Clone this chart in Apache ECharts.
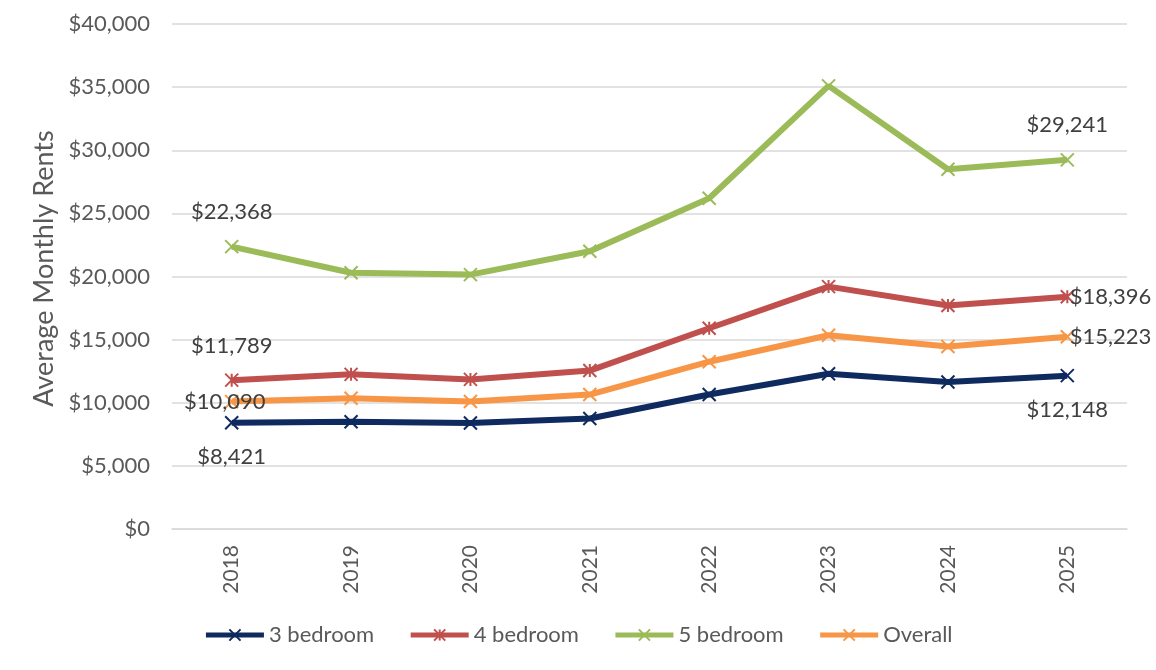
<!DOCTYPE html>
<html>
<head>
<meta charset="utf-8">
<script src="https://cdn.jsdelivr.net/npm/echarts@6/dist/echarts.min.js"></script>
<style>
  html,body{margin:0;padding:0;background:#fff;}
  #chart{width:1156px;height:670px;}
</style>
</head>
<body>
<div id="chart"></div>
<script>
// data
var years = ['2018', '2019', '2020', '2021', '2022', '2023', '2024', '2025']
var bed3 = [8421, 8500, 8400, 8750, 10650, 12300, 11650, 12148]
var bed4 = [11789, 12250, 11850, 12550, 15900, 19200, 17700, 18396]
var bed5 = [22368, 20300, 20150, 22000, 26200, 35100, 28500, 29241]
var overall = [10090, 10350, 10100, 10650, 13250, 15350, 14450, 15223]

var xMark = 'path://M0,0L10,10M10,0L0,10'
var starMark = 'path://M0,0L10,10M10,0L0,10M5,0L5,10'

function money(v){
  return '$' + Math.round(v).toLocaleString('en-US')
}

// label setup per position, first and last points only
function labelAt(pos){
  if (pos === 'right') return {show: true, position: 'right', distance: -5}
  if (pos === 'inside') return {show: true, position: 'inside', offset: [-7, 0]}
  return {show: true, position: pos, distance: 16}
}

function withLabels(values, firstPos, lastPos){
  return values.map(function(v, i){
    if (i === 0) return {value: v, label: labelAt(firstPos)}
    if (i === values.length - 1) return {value: v, label: labelAt(lastPos)}
    return v
  })
}

function makeSeries(name, values, color, symbol, firstPos, lastPos){
  return {
    name: name,
    type: 'line',
    data: withLabels(values, firstPos, lastPos),
    symbol: symbol,
    symbolSize: 13,
    showAllSymbol: true,
    lineStyle: {color: color, width: 6},
    itemStyle: {color: color, borderColor: color, borderWidth: 2},
    label: {
      show: false,
      fontFamily: 'Lato',
      fontSize: 22,
      color: '#404040',
      formatter: function(p){ return money(p.value) }
    },
    emphasis: {disabled: true},
    z: 2
  }
}

var chart = echarts.init(document.getElementById('chart'), null, {renderer: 'canvas'})
chart.setOption({
  animation: false,
  textStyle: {fontFamily: 'Lato'},
  grid: {left: 172, right: 29, top: 24, bottom: 141},
  legend: {
    bottom: 19,
    left: 'center',
    itemWidth: 58,
    itemHeight: 14,
    itemGap: 34,
    lineStyle: {width: 5},
    textStyle: {fontSize: 22, color: '#595959', fontFamily: 'Lato'},
    data: ['3 bedroom', '4 bedroom', '5 bedroom', 'Overall']
  },
  xAxis: {
    type: 'category',
    data: years,
    boundaryGap: true,
    axisLine: {lineStyle: {color: '#d9d9d9', width: 1.5}},
    axisTick: {show: false},
    axisLabel: {rotate: 90, fontSize: 21, color: '#595959', margin: 16}
  },
  yAxis: {
    type: 'value',
    min: 0,
    max: 40000,
    interval: 5000,
    name: 'Average Monthly Rents',
    nameLocation: 'middle',
    nameGap: 110,
    nameTextStyle: {fontSize: 27, color: '#595959', padding: [0, 0, 0, 16]},
    axisLine: {show: false},
    axisTick: {show: false},
    splitLine: {lineStyle: {color: '#d9d9d9', width: 1.5}},
    axisLabel: {fontSize: 22, color: '#595959', margin: 22, formatter: money}
  },
  series: [
    makeSeries('3 bedroom', bed3, '#0f2a5e', xMark, 'bottom', 'bottom'),
    makeSeries('4 bedroom', bed4, '#c0504d', starMark, 'top', 'right'),
    makeSeries('5 bedroom', bed5, '#9bbb59', xMark, 'top', 'top'),
    makeSeries('Overall', overall, '#f79646', xMark, 'inside', 'right')
  ]
})
</script>
</body>
</html>
